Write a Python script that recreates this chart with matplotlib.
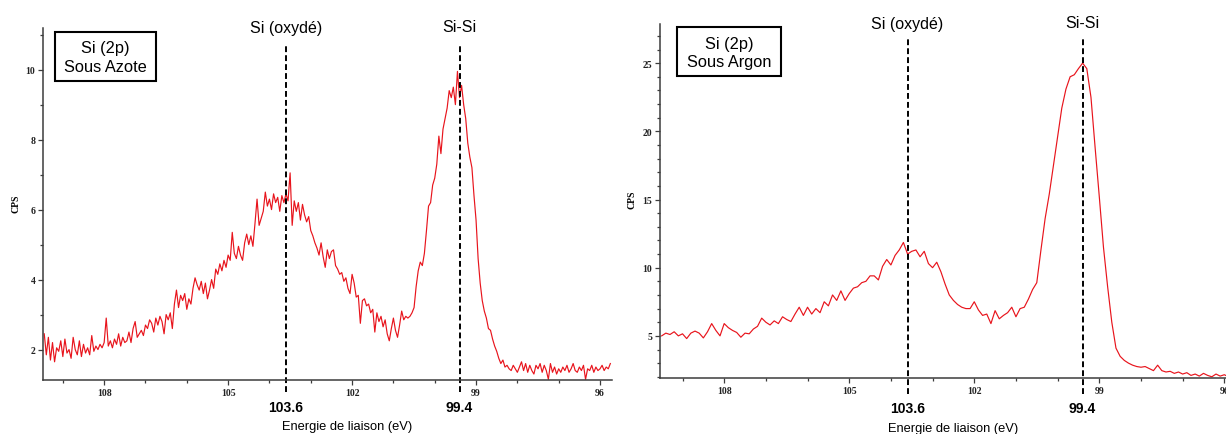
import numpy as np
import matplotlib
matplotlib.use("Agg")
from matplotlib import pyplot as plt
from matplotlib.patches import Rectangle
from matplotlib.ticker import MultipleLocator
from matplotlib.transforms import blended_transform_factory

W, H = 1226, 435

# Si 2p spectrum under nitrogen, binding energy 109.45 -> 95.75 eV, step 0.05 eV
energy_azote = np.linspace(109.45, 95.75, 275)
cps_azote = [
    2.45, 1.85, 2.35, 1.70, 2.20, 1.65, 2.05, 1.95, 2.25, 1.80, 2.30, 1.90, 2.00, 1.75, 2.35, 2.00, 1.85, 2.25, 1.80, 2.15,
    1.90, 2.05, 1.85, 2.40, 1.95, 2.10, 2.00, 2.15, 2.05, 2.20, 2.90, 2.10, 2.25, 2.05, 2.30, 2.15, 2.45, 2.10, 2.35, 2.20,
    2.25, 2.50, 2.20, 2.60, 2.80, 2.35, 2.45, 2.55, 2.40, 2.70, 2.60, 2.85, 2.75, 2.50, 2.90, 2.70, 2.95, 2.80, 2.45, 3.00,
    2.85, 3.05, 2.60, 3.30, 3.70, 3.20, 3.55, 3.40, 3.60, 3.15, 3.45, 3.30, 3.75, 4.05, 3.85, 3.70, 3.95, 3.60, 3.90, 3.45,
    3.70, 4.00, 3.75, 4.30, 4.15, 4.45, 4.25, 4.55, 4.35, 4.70, 4.55, 5.35, 4.75, 4.60, 4.95, 4.70, 4.55, 5.05, 5.30, 5.00,
    5.25, 4.95, 5.60, 6.30, 5.55, 5.75, 5.95, 6.50, 6.10, 6.30, 6.00, 6.45, 6.20, 6.35, 5.95, 6.40, 6.20, 6.45, 6.25, 7.05,
    5.55, 6.25, 5.95, 6.20, 5.70, 6.15, 5.85, 5.65, 5.80, 5.40, 5.25, 5.05, 4.90, 4.70, 5.05, 4.65, 4.35, 4.85, 4.60, 4.80,
    4.85, 4.40, 4.30, 4.15, 4.20, 3.95, 4.05, 3.75, 3.60, 4.15, 3.90, 3.50, 3.55, 2.75, 3.40, 3.45, 3.25, 3.30, 3.05, 3.15,
    2.50, 3.05, 2.80, 2.95, 2.65, 2.85, 2.45, 2.25, 2.60, 2.90, 2.55, 2.35, 2.70, 3.10, 2.85, 2.95, 2.90, 2.95, 3.05, 3.20,
    3.80, 4.25, 4.50, 4.40, 4.75, 5.40, 6.10, 6.20, 6.70, 6.90, 7.30, 8.10, 7.60, 8.30, 8.60, 8.90, 9.40, 9.20, 9.50, 9.00,
    9.95, 9.20, 9.55, 9.00, 8.60, 7.90, 7.50, 7.20, 6.40, 5.70, 4.60, 3.90, 3.40, 3.10, 2.90, 2.60, 2.55, 2.30, 2.10, 1.95,
    1.75, 1.60, 1.70, 1.50, 1.55, 1.45, 1.40, 1.55, 1.45, 1.35, 1.50, 1.65, 1.40, 1.60, 1.35, 1.55, 1.40, 1.30, 1.55, 1.45,
    1.60, 1.35, 1.55, 1.40, 1.15, 1.60, 1.35, 1.50, 1.30, 1.45, 1.35, 1.50, 1.40, 1.55, 1.35, 1.45, 1.60, 1.40, 1.35, 1.50,
    1.40, 1.55, 1.15, 1.45, 1.40, 1.55, 1.35, 1.50, 1.40, 1.45, 1.55, 1.40, 1.50, 1.45, 1.60,
]

# Si 2p spectrum under argon, binding energy 109.5 -> 95.9 eV, step 0.1 eV
energy_argon = np.linspace(109.5, 95.9, 137)
cps_argon = [
    5.00, 5.20, 5.10, 5.30, 5.00, 5.15, 4.80, 5.20, 5.35, 5.20,
    4.85, 5.30, 5.90, 5.40, 5.00, 5.90, 5.60, 5.40, 5.25, 4.90,
    5.20, 5.15, 5.50, 5.70, 6.30, 6.00, 5.80, 6.10, 5.90, 6.40,
    6.20, 6.05, 6.60, 7.10, 6.50, 7.10, 6.60, 7.00, 6.70, 7.50,
    7.20, 8.00, 7.60, 8.30, 7.60, 8.10, 8.50, 8.60, 8.90, 9.00,
    9.40, 9.40, 9.10, 10.10, 10.60, 10.20, 10.90, 11.30, 11.85, 11.00,
    11.20, 11.30, 10.80, 11.20, 10.30, 10.00, 10.40, 9.70, 8.80, 8.00,
    7.60, 7.30, 7.10, 7.00, 7.00, 7.50, 6.90, 6.50, 6.60, 5.90,
    6.85, 6.25, 6.50, 6.70, 7.10, 6.40, 7.00, 7.10, 7.70, 8.40,
    8.90, 11.30, 13.60, 15.40, 17.50, 19.60, 21.70, 23.10, 24.00, 24.15,
    24.60, 25.00, 24.60, 22.50, 18.80, 15.20, 11.50, 8.60, 6.00, 4.10,
    3.50, 3.20, 3.00, 2.85, 2.75, 2.70, 2.75, 2.60, 2.45, 2.85,
    2.45, 2.35, 2.40, 2.25, 2.35, 2.20, 2.30, 2.10, 2.20, 2.05,
    2.25, 2.10, 2.00, 2.20, 2.05, 2.15, 2.00,
]

x_ticks = [108, 105, 102, 99, 96]
peak_energy = [103.6, 99.4]
peak_names = ["Si (oxydé)", "Si-Si"]
peak_values = ["103.6", "99.4"]

RED = "#e8141c"
AXIS = "#3c3c3c"
SANS = ["Liberation Sans", "DejaVu Sans"]
SERIF = ["Liberation Serif", "DejaVu Serif"]


def fx(px):
    return px / W


def fy(py):
    return 1 - py / H


def draw_panel(fig, box, energy, cps, xlim, ylim, y_step, dash_px, name_y, value_y,
               legend_box, legend_lines, xlabel_px, cps_px):
    left, top, right, bottom = box
    ax = fig.add_axes([fx(left), fy(bottom), fx(right - left), (bottom - top) / H])
    ax.plot(energy, cps, color=RED, lw=0.85)
    ax.set_xlim(*xlim)
    ax.set_ylim(*ylim)

    for side in ("top", "right"):
        ax.spines[side].set_visible(False)
    for side in ("left", "bottom"):
        ax.spines[side].set_color(AXIS)
        ax.spines[side].set_linewidth(1.1)

    ax.set_xticks(x_ticks)
    ax.xaxis.set_minor_locator(MultipleLocator(1))
    ax.yaxis.set_major_locator(MultipleLocator(y_step))
    ax.yaxis.set_minor_locator(MultipleLocator(1))
    ax.tick_params(which="both", direction="out", color=AXIS, labelcolor="#222222",
                   labelsize=7, width=0.9, pad=2)
    ax.tick_params(which="major", length=3.5)
    ax.tick_params(which="minor", length=2.5)
    for lbl in ax.get_xticklabels() + ax.get_yticklabels():
        lbl.set_fontfamily(SERIF)
        lbl.set_fontweight("bold")

    # dashed peak markers, running past the axes frame
    ax_h = bottom - top
    ymin = (bottom - dash_px[1]) / ax_h
    ymax = (bottom - dash_px[0]) / ax_h
    trans = blended_transform_factory(ax.transData, fig.transFigure)
    for e, name, val in zip(peak_energy, peak_names, peak_values):
        ax.axvline(e, ymin=ymin, ymax=ymax, clip_on=False, color="black",
                   lw=1.4, linestyle=(0, (3, 1.6)))
        ax.text(e, fy(name_y), name, transform=trans, ha="center", va="center",
                fontsize=11.5, family=SANS)
        ax.text(e, fy(value_y), val, transform=trans, ha="center", va="center",
                fontsize=10, fontweight="bold", family=SANS)

    # sample box
    bx0, by0, bx1, by1 = legend_box
    fig.patches.append(Rectangle((fx(bx0), fy(by1)), fx(bx1 - bx0), (by1 - by0) / H,
                                 transform=fig.transFigure, fill=False,
                                 edgecolor="black", lw=1.5))
    cx = fx((bx0 + bx1) / 2)
    for text, py in legend_lines:
        fig.text(cx, fy(py), text, ha="center", va="center", fontsize=11.8, family=SANS)

    fig.text(fx(xlabel_px[0]), fy(xlabel_px[1]), "Energie de liaison (eV)",
             ha="center", va="center", fontsize=9.3, family=SANS)
    fig.text(fx(cps_px[0]), fy(cps_px[1]), "CPS", rotation=90, ha="center", va="center",
             fontsize=7, fontweight="bold", family=SERIF)
    return ax


fig = plt.figure(figsize=(W / 100, H / 100), dpi=100)

draw_panel(fig, (43, 29, 612, 381), energy_azote, cps_azote,
           (109.48, 95.71), (1.13, 11.19), 2,
           dash_px=(45, 393), name_y=28, value_y=408,
           legend_box=(55, 33, 156, 82),
           legend_lines=[("Si (2p)", 48), ("Sous Azote", 68)],
           xlabel_px=(347, 427), cps_px=(16, 204))

draw_panel(fig, (660, 25, 1226, 379), energy_argon, cps_argon,
           (109.54, 95.96), (1.91, 27.87), 5,
           dash_px=(40, 395), name_y=24, value_y=409,
           legend_box=(677, 28, 781, 77),
           legend_lines=[("Si (2p)", 44), ("Sous Argon", 63)],
           xlabel_px=(953, 429), cps_px=(632, 200))

fig.savefig("out.png", dpi=100)
